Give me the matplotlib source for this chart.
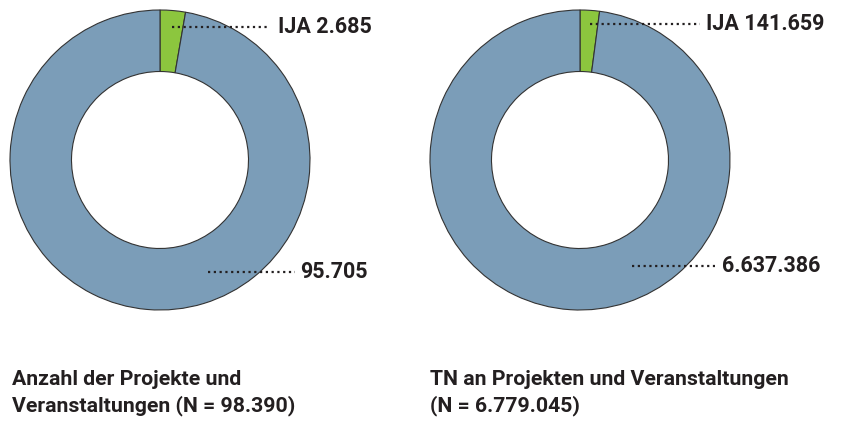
import matplotlib.pyplot as plt

# data
labels = ["IJA", "Rest"]
projekte = [2685, 95705]
teilnehmer = [141659, 6637386]
proj_labels = ["IJA 2.685", "95.705"]
tn_labels = ["IJA 141.659", "6.637.386"]
titles = ["Anzahl der Projekte und\nVeranstaltungen (N = 98.390)",
          "TN an Projekten und Veranstaltungen\n(N = 6.779.045)"]

colors = ["#8cc63e", "#7b9db8"]
txt = "#231f20"
W, H = 844, 421

fig = plt.figure(figsize=(W / 100, H / 100), dpi=100)


def donut(cx, vals, lab, lines):
    ax = fig.add_axes([(cx - 150) / W, (H - 310) / H, 300 / W, 300 / H])
    ax.pie(vals, colors=colors, startangle=90, counterclock=False, radius=1,
           wedgeprops=dict(width=0.41, edgecolor="#333333", linewidth=0.8))
    ax.set_xlim(-1, 1)
    ax.set_ylim(-1, 1)
    ax.set_aspect("equal")
    ax.axis("off")
    for (x0, x1, y, xt), s in zip(lines, lab):
        ax.plot([x0, x1], [y, y], ls=(0, (1, 1.6)), lw=1.6, color=txt, clip_on=False)
        ax.text(xt, y, s, ha="left", va="center", fontsize=15.5, fontweight="bold",
                color=txt, family="Roboto", clip_on=False)
    return ax


donut(160, projekte, proj_labels, [(0.08, 0.733, 0.887, 0.787), (0.32, 0.9, -0.747, 0.933)])
donut(580, teilnehmer, tn_labels, [(0.067, 0.8, 0.907, 0.84), (0.347, 0.9, -0.707, 0.947)])

for x, t in zip([12, 430], titles):
    fig.text(x / W, 1 - 370 / H, t, ha="left", va="top", fontsize=15.3, fontweight="bold",
             color=txt, family="Roboto", linespacing=1.42)

fig.savefig("out.png", dpi=100)
